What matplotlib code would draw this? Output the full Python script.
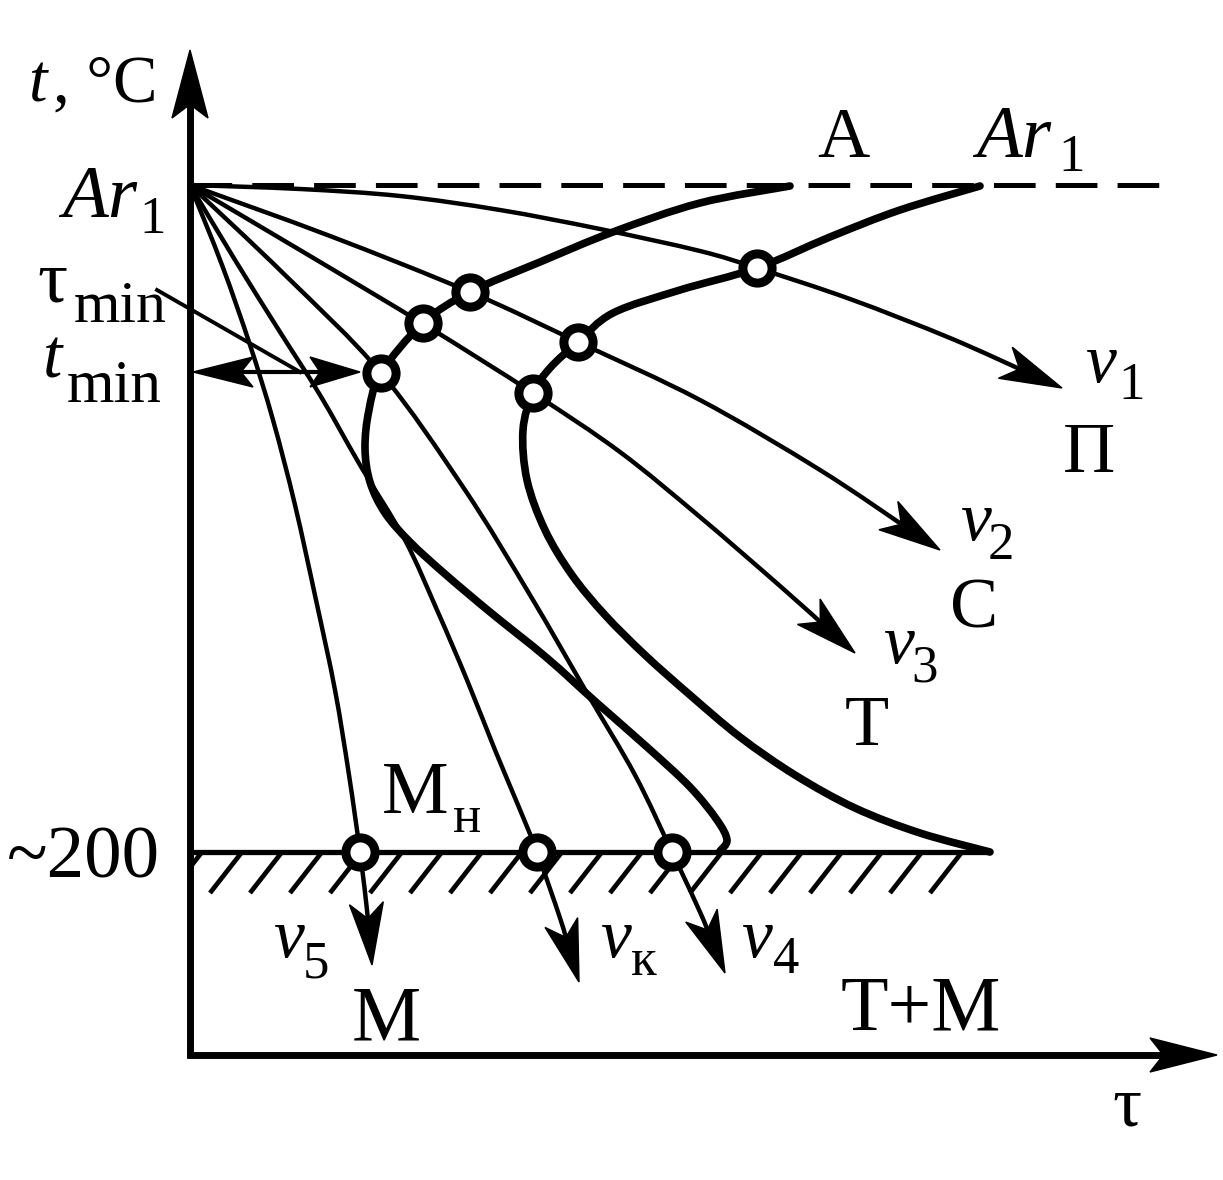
import numpy as np
import matplotlib
matplotlib.use("Agg")
import matplotlib.pyplot as plt
from matplotlib.path import Path
from matplotlib.patches import PathPatch, Polygon

# ---------------- data (tau = time units, t = temperature units) ----------------
AR1 = 870          # Ar1 level
MS = 203           # ~200 (martensite start) level
AR1_LINE_END = 980
MS_LINE_END = 800

# C-curve: start of transformation
START_TAU = [600, 510, 423, 350, 280, 233, 191, 179, 175, 180, 195, 220, 255, 300, 357, 407, 457, 500, 527, 537, 530]
START_T = [869, 852, 823, 793, 763, 732, 682, 645, 607, 573, 542, 513, 481, 443, 397, 352, 308, 268, 235, 215, 204]

# C-curve: end of transformation
END_TAU = [790, 710, 640, 567, 490, 423, 388, 360, 343, 333, 337, 355, 382, 415, 455, 500, 550, 605, 665, 730, 800]
END_T = [869, 845, 818, 787, 765, 742, 713, 687, 662, 625, 575, 525, 480, 440, 400, 360, 318, 280, 247, 222, 203]

# cooling curves
V1_TAU = [0, 110, 210, 310, 410, 510, 567, 660, 760, 872]
V1_T = [870, 866, 859, 845, 826, 804, 787, 756, 717, 667]
V2_TAU = [0, 140, 280, 388, 510, 630, 750]
V2_T = [870, 819, 763, 713, 655, 585, 505]
V3_TAU = [0, 120, 235, 343, 430, 510, 590, 665]
V3_T = [870, 799, 730, 662, 603, 538, 469, 402]
V4_TAU = [0, 95, 191, 275, 340, 397, 445, 482, 510, 535]
V4_T = [870, 780, 682, 565, 460, 362, 280, 203, 143, 82]
VK_TAU = [0, 45, 90, 130, 170, 215, 247, 277, 305, 328, 347, 370, 389]
VK_T = [870, 795, 723, 660, 590, 515, 445, 375, 305, 250, 203, 137, 73]
V5_TAU = [0, 32, 60, 83, 105, 126, 145, 159, 170, 177, 182]
V5_T = [870, 790, 710, 635, 550, 455, 365, 280, 203, 145, 90]

# transformation points (circles)
CIRCLE_TAU = [280, 233, 191, 567, 388, 343, 170, 347, 482]
CIRCLE_T = [763, 732, 682, 787, 713, 662, 203, 203, 203]

# t_min / tau_min marks
TMIN_T = 683
TMIN_TAU = 170
TAUMIN_LEADER_TAU = [-33, 110]
TAUMIN_LEADER_T = [765, 683]

# hatch positions below the Ms line
HATCH_START = np.arange(-20, 741, 40)

# labels: (text, tau, t, size, style)
LABELS = [
    ("t", -162, 953, 48, "italic"),
    (", °C", -137, 953, 48, "normal"),
    ("Ar", -128, 838, 54, "italic"),
    ("1", -51, 822, 38, "normal"),
    ("τ", -153, 753, 54, "normal"),
    ("min", -116, 733, 43, "normal"),
    ("t", -147, 677, 50, "italic"),
    ("min", -123, 653, 44, "normal"),
    ("А", 627, 898, 52, "normal"),
    ("Ar", 786, 898, 54, "italic"),
    ("1", 868, 884, 38, "normal"),
    ("v", 895, 673, 50, "italic"),
    ("1", 928, 656, 38, "normal"),
    ("П", 873, 583, 52, "normal"),
    ("v", 770, 515, 50, "italic"),
    ("2", 798, 496, 38, "normal"),
    ("С", 760, 427, 52, "normal"),
    ("v", 693, 392, 50, "italic"),
    ("3", 721, 373, 38, "normal"),
    ("Т", 655, 310, 52, "normal"),
    ("М", 192, 242, 54, "normal"),
    ("н", 263, 223, 38, "normal"),
    ("v", 83, 98, 50, "italic"),
    ("5", 113, 78, 38, "normal"),
    ("М", 162, 15, 56, "normal"),
    ("v", 410, 98, 50, "italic"),
    ("к", 441, 80, 38, "normal"),
    ("v", 551, 98, 50, "italic"),
    ("4", 583, 82, 38, "normal"),
    ("Т+М", 651, 25, 56, "normal"),
    ("τ", 922, -70, 52, "normal"),
    ("~200", -183, 178, 54, "normal"),
]

# ---------------- drawing ----------------
plt.rcParams["font.family"] = ["Liberation Serif", "DejaVu Serif"]
plt.rcParams["lines.scale_dashes"] = False

fig = plt.figure(figsize=(12.23, 11.8), dpi=100)
ax = fig.add_axes([0, 0, 1, 1])
ax.set_xlim(-190, 1033)
ax.set_ylim(-125, 1055)
ax.axis("off")


def smooth_path(x, y):
    p = np.column_stack([x, y]).astype(float)
    n = len(p)
    verts = [p[0]]
    codes = [Path.MOVETO]
    for i in range(n - 1):
        p0 = p[i - 1] if i > 0 else p[i]
        p1, p2 = p[i], p[i + 1]
        p3 = p[i + 2] if i + 2 < n else p[i + 1]
        c1 = p1 + (p2 - p0) / 6.0
        c2 = p2 - (p3 - p1) / 6.0
        verts += [c1, c2, p2]
        codes += [Path.CURVE4] * 3
    return Path(verts, codes)


def head(tip, prev, L=62, W=17, notch=0.75):
    tip = np.asarray(tip, float)
    d = tip - np.asarray(prev, float)
    d /= np.hypot(*d)
    nrm = np.array([-d[1], d[0]])
    pts = [tip, tip - L * d + W * nrm, tip - notch * L * d, tip - L * d - W * nrm]
    ax.add_patch(Polygon(pts, closed=True, fc="black", ec="black", lw=1, zorder=6))
    return tip - 0.6 * L * d


def curve(x, y, lw, arrow=False, z=3):
    x = list(map(float, x))
    y = list(map(float, y))
    if arrow:
        end = head((x[-1], y[-1]), (x[-2], y[-2]))
        x[-1], y[-1] = end
    ax.add_patch(PathPatch(smooth_path(x, y), fill=False, lw=lw, ec="black",
                           capstyle="round", joinstyle="round", zorder=z))


# Ar1 dashed line
ax.plot([0, AR1_LINE_END], [AR1, AR1], color="black", lw=3.6,
        ls=(0, (30, 14.5)), dash_capstyle="butt", zorder=2)

# cooling curves
for tx, ty in [(V1_TAU, V1_T), (V2_TAU, V2_T), (V3_TAU, V3_T),
               (V4_TAU, V4_T), (VK_TAU, VK_T), (V5_TAU, V5_T)]:
    curve(tx, ty, 3.2, arrow=True)

# C-curves
curve(START_TAU, START_T, 5.5, z=4)
curve(END_TAU, END_T, 5.5, z=4)

# Ms line and hatching
ax.plot([0, MS_LINE_END], [MS, MS], color="black", lw=3.8, solid_capstyle="butt", zorder=4)
rise = 41.0
run = 32.0
for b in HATCH_START:
    x0, y0 = float(b), MS - rise
    if x0 < 0:
        y0 = y0 + (-x0) * rise / run
        x0 = 0.0
    ax.plot([x0, b + run], [y0, MS], color="black", lw=3.4, solid_capstyle="butt", zorder=4)

# axes with arrows
end_y = head((0, 1005), (0, 0), L=68, W=18, notch=0.8)
ax.plot([0, 0], [-3, end_y[1]], color="black", lw=5, solid_capstyle="butt", zorder=5)
end_x = head((1027, 0), (0, 0), L=67, W=17, notch=0.8)
ax.plot([-3, end_x[0]], [0, 0], color="black", lw=5, solid_capstyle="butt", zorder=5)

# t_min double arrow and tau_min leader
l_end = head((3, TMIN_T), (TMIN_TAU, TMIN_T), L=60, W=15, notch=0.8)
r_end = head((TMIN_TAU, TMIN_T), (3, TMIN_T), L=50, W=15, notch=0.8)
ax.plot([l_end[0], r_end[0]], [TMIN_T, TMIN_T], color="black", lw=3.0, zorder=5)
ax.plot(TAUMIN_LEADER_TAU, TAUMIN_LEADER_T, color="black", lw=2.8, zorder=5)

# transformation points
ax.plot(CIRCLE_TAU, CIRCLE_T, ls="none", marker="o", ms=21, mew=6.5,
        mfc="white", mec="black", zorder=8)

# labels
for s, x, y, size, style in LABELS:
    ax.text(x, y, s, fontsize=size, fontstyle=style, ha="left", va="baseline",
            color="black", zorder=9)

fig.savefig("out.png", dpi=100, facecolor="white")
